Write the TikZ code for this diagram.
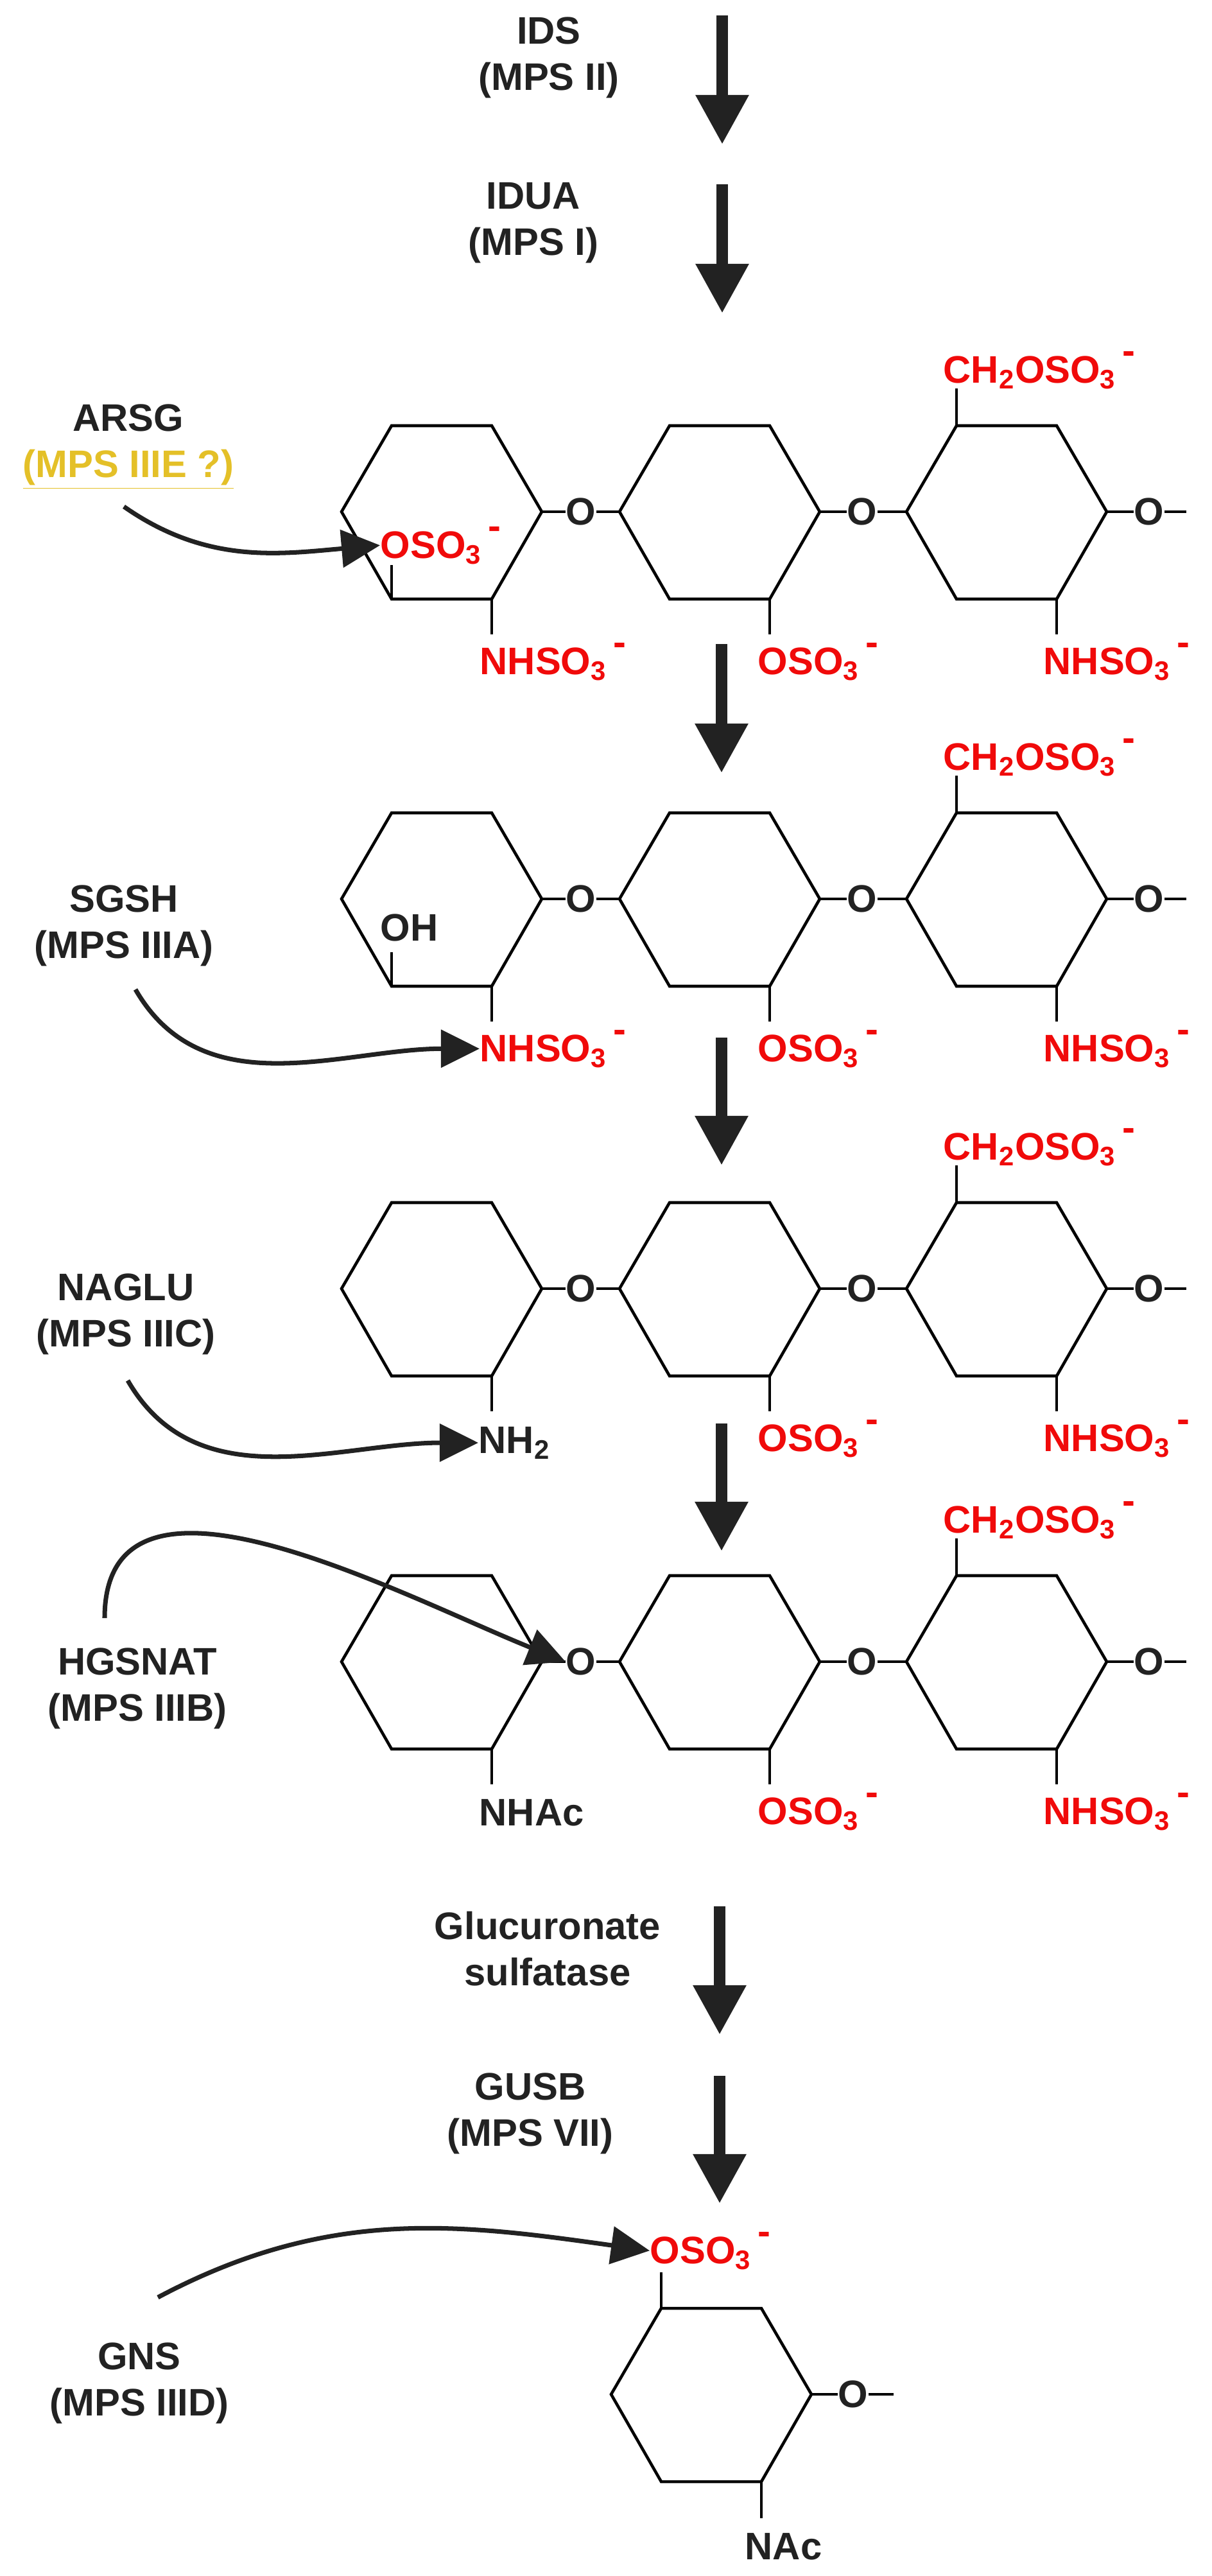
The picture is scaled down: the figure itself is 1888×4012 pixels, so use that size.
\documentclass[tikz,border=0pt]{standalone}
\usepackage{fontspec}
\setmainfont{Liberation Sans}
\usetikzlibrary{arrows.meta, positioning, calc}
\tikzset{>={Stealth}}
\definecolor{subred}{RGB}{240,10,10}
\definecolor{enzgold}{RGB}{228,192,40}
\definecolor{ink}{RGB}{34,34,34}
\newcommand{\ionminus}{\raisebox{0.95ex}{\,-}}

\begin{document}
\begin{tikzpicture}[
  x=0.01cm, y=-0.01cm,
  txt/.style={font=\fontsize{17}{20.5}\selectfont\bfseries, text=ink, align=center, inner sep=0pt},
  subst/.style={txt, text=subred},
  mainstep/.style={line width=5.2pt, ink, -{Triangle[width=0.78cm,length=0.77cm]}},
  hit/.style={line width=2pt, ink, -{Triangle[width=0.58cm,length=0.6cm]}},
  bond/.style={line width=1.3pt, black},
  ring/.pic={
    \coordinate (-l) at (-156,0);  \coordinate (-r) at (156,0);
    \coordinate (-tl) at (-78,-134); \coordinate (-tr) at (78,-134);
    \coordinate (-bl) at (-78,136); \coordinate (-br) at (78,136);
    \draw[bond, line join=miter] (-l) -- (-tl) -- (-tr) -- (-r) -- (-br) -- (-bl) -- cycle;
  }
]
  \useasboundingbox (0,0) rectangle (1888,4012);

  % Main steps
  \node[txt] (ids) at (855,90) {IDS\\(MPS II)};
  \coordinate (s1a) at (1125,24);  \coordinate (s1b) at (1125,225);
  \draw[mainstep] (s1a) -- (s1b);
  \node[txt] (idua) at (831,347) {IDUA\\(MPS I)};
  \coordinate (s2a) at (1125,287); \coordinate (s2b) at (1125,488);
  \draw[mainstep] (s2a) -- (s2b);

  % Tetrasaccharide rows
  \foreach \n/\y in {1/797,2/1400,3/2007,4/2588}{
    \pic (a\n) at (688,\y) {ring};
    \pic (b\n) at (1121,\y) {ring};
    \pic (c\n) at (1568,\y) {ring};
    \node[txt] (oa\n) at (905,\y) {O};
    \node[txt] (ob\n) at (1343,\y) {O};
    \node[txt] (oc\n) at (1790,\y) {O};
    \coordinate (end\n) at (1848,\y);
    \draw[bond] (a\n-r) -- (oa\n) -- (b\n-l);
    \draw[bond] (b\n-r) -- (ob\n) -- (c\n-l);
    \draw[bond] (c\n-r) -- (oc\n) -- (end\n);
    % substituents
    \node[subst, anchor=base west] (sb\n) at (1180,\y+253) {OSO\textsubscript{3}\ionminus};
    \draw[bond] (b\n-br) -- ++(0,55);
    \node[subst, anchor=base west] (nc\n) at (1625,\y+253) {NHSO\textsubscript{3}\ionminus};
    \draw[bond] (c\n-br) -- ++(0,55);
    \node[subst, anchor=base west] (cc\n) at (1469,\y-201) {CH\textsubscript{2}OSO\textsubscript{3}\ionminus};
    \draw[bond] (c\n-tl) -- ++(0,-58);
  }

  % Ring A substituents
  \node[subst, anchor=base west] (a1o) at (592,869) {OSO\textsubscript{3}\ionminus};
  \draw[bond] (a1-bl) -- ++(0,-53);
  \node[subst, anchor=base west] (a1n) at (747,1050) {NHSO\textsubscript{3}\ionminus};
  \draw[bond] (a1-br) -- ++(0,55);
  \node[txt, anchor=base west] (a2o) at (592,1465) {OH};
  \draw[bond] (a2-bl) -- ++(0,-53);
  \node[subst, anchor=base west] (a2n) at (747,1653) {NHSO\textsubscript{3}\ionminus};
  \draw[bond] (a2-br) -- ++(0,55);
  \node[txt, anchor=base west] (a3n) at (745,2263) {NH\textsubscript{2}};
  \draw[bond] (a3-br) -- ++(0,55);
  \node[txt, anchor=base west] (a4n) at (746,2843) {NHAc};
  \draw[bond] (a4-br) -- ++(0,55);

  % Steps between rows
  \foreach \ya/\yb in {1003/1204,1616/1815,2217/2416}{
    \coordinate (t) at (1124,\ya); \coordinate (h) at (1124,\yb);
    \draw[mainstep] (t) -- (h);
  }
  \node[txt] (gsulf) at (853,3035) {Glucuronate\\sulfatase};
  \coordinate (s3a) at (1121,2969); \coordinate (s3b) at (1121,3169);
  \draw[mainstep] (s3a) -- (s3b);
  \node[txt] (gusb) at (826,3292) {GUSB\\(MPS VII)};
  \coordinate (s4a) at (1121,3233); \coordinate (s4b) at (1121,3432);
  \draw[mainstep] (s4a) -- (s4b);

  % Final residue
  \pic (e) at (1108,3729) {ring};
  \node[subst, anchor=base west] (eo) at (1012,3525) {OSO\textsubscript{3}\ionminus};
  \draw[bond] (e-tl) -- ++(0,-56);
  \node[txt] (eor) at (1329,3729) {O};
  \coordinate (eend) at (1392,3729);
  \draw[bond] (e-r) -- (eor) -- (eend);
  \node[txt, anchor=base west] (en) at (1160,3986) {NAc};
  \draw[bond] (e-br) -- ++(0,57);

  % Enzymes on the side
  \node[txt] (arsg) at (200,696) {ARSG\\\textcolor{enzgold}{\underline{(MPS IIIE ?)}}};
  \coordinate (arsgt) at (193,789);
  \draw[hit] (arsgt) to[out=-35,in=185] (a1o.west);
  \node[txt] (sgsh) at (193,1442) {SGSH\\(MPS IIIA)};
  \coordinate (sgsht) at (211,1541);
  \draw[hit] (sgsht) to[out=-60,in=180] (a2n.west);
  \node[txt] (naglu) at (196,2047) {NAGLU\\(MPS IIIC)};
  \coordinate (naglut) at (199,2150);
  \draw[hit] (naglut) to[out=-60,in=180] (a3n.west);
  \node[txt] (hgsnat) at (214,2630) {HGSNAT\\(MPS IIIB)};
  \coordinate (hgsnatt) at (163,2520);
  \draw[hit] (hgsnatt) to[out=90,in=158] (oa4.west);
  \node[txt] (gns) at (217,3712) {GNS\\(MPS IIID)};
  \coordinate (gnst) at (246,3578);
  \draw[hit] (gnst) to[out=28,in=172] (eo.west);
\end{tikzpicture}
\end{document}
